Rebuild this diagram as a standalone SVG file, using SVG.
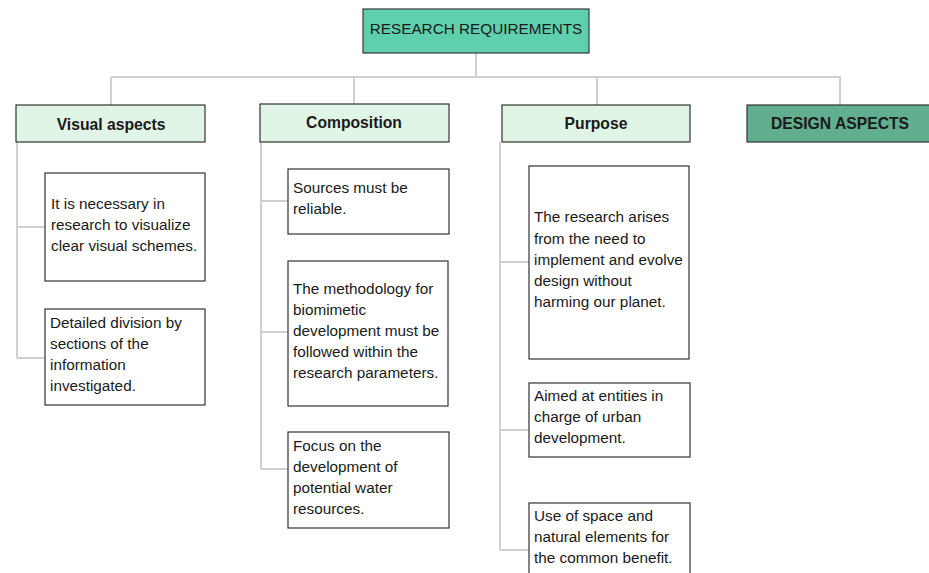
<svg xmlns="http://www.w3.org/2000/svg" width="929" height="573" viewBox="0 0 929 573">
  <style>
    .link { fill: none; stroke: #d0d0d0; stroke-width: 2; }
    .root { fill: #5fcfae; stroke: #3a3a3a; stroke-width: 1.2; }
    .head { fill: #e1f5e7; stroke: #333; stroke-width: 1.2; }
    .design { fill: #62ae91; stroke: #333; stroke-width: 1.2; }
    .leaf { fill: #fff; stroke: #333; stroke-width: 1.2; }
    text { font-family: "Liberation Sans", Arial, sans-serif; font-size: 15.3px; fill: #1a1a1a; }
    .b { font-weight: bold; font-size: 15.7px; }
    .c { text-anchor: middle; }
  </style>
  <rect width="929" height="573" fill="#fff"/>

  <!-- connectors -->
  <g id="connectors">
    <path class="link" d="M476 53V77M111 77H841M111 77V105M354 77V104M597 77V105M840 77V105"/>
    <!-- Visual aspects spine -->
    <path class="link" d="M17 142V358M17 227H45M17 358H45"/>
    <!-- Composition spine -->
    <path class="link" d="M261 142V469M261 201H288M261 332H288M261 469H288"/>
    <!-- Purpose spine -->
    <path class="link" d="M500 142V550M500 262H529M500 430H529M500 550H529"/>
  </g>

  <g id="root">
    <rect class="root" x="363" y="9" width="226" height="44"/>
    <text class="c" x="476" y="34">RESEARCH REQUIREMENTS</text>
  </g>

  <g id="visual-aspects">
    <rect class="head" x="16" y="105" width="189" height="37"/>
    <text class="b c" x="111" y="130">Visual aspects</text>
  </g>
  <g id="visual-1">
    <rect class="leaf" x="45" y="173" width="160" height="108"/>
    <text x="51" y="209">It is necessary in</text>
    <text x="51" y="230">research to visualize</text>
    <text x="51" y="251">clear visual schemes.</text>
  </g>
  <g id="visual-2">
    <rect class="leaf" x="45" y="309" width="160" height="96"/>
    <text x="50" y="328">Detailed division by</text>
    <text x="50" y="349">sections of the</text>
    <text x="50" y="370">information</text>
    <text x="50" y="391">investigated.</text>
  </g>

  <g id="composition">
    <rect class="head" x="260" y="104" width="189" height="38"/>
    <text class="b c" x="354" y="128">Composition</text>
  </g>
  <g id="composition-1">
    <rect class="leaf" x="288" y="169" width="161" height="65"/>
    <text x="293" y="193">Sources must be</text>
    <text x="293" y="214">reliable.</text>
  </g>
  <g id="composition-2">
    <rect class="leaf" x="288" y="261" width="160" height="145"/>
    <text x="293" y="294">The methodology for</text>
    <text x="293" y="315">biomimetic</text>
    <text x="293" y="336">development must be</text>
    <text x="293" y="357">followed within the</text>
    <text x="293" y="378">research parameters.</text>
  </g>
  <g id="composition-3">
    <rect class="leaf" x="288" y="432" width="161" height="96"/>
    <text x="293" y="451">Focus on the</text>
    <text x="293" y="472">development of</text>
    <text x="293" y="493">potential water</text>
    <text x="293" y="514">resources.</text>
  </g>

  <g id="purpose">
    <rect class="head" x="502" y="105" width="188" height="37"/>
    <text class="b c" x="596" y="129">Purpose</text>
  </g>
  <g id="purpose-1">
    <rect class="leaf" x="529" y="166" width="160" height="193"/>
    <text x="534" y="222">The research arises</text>
    <text x="534" y="244">from the need to</text>
    <text x="534" y="265">implement and evolve</text>
    <text x="534" y="286">design without</text>
    <text x="534" y="307">harming our planet.</text>
  </g>
  <g id="purpose-2">
    <rect class="leaf" x="529" y="383" width="161" height="74"/>
    <text x="534" y="401">Aimed at entities in</text>
    <text x="534" y="422">charge of urban</text>
    <text x="534" y="443">development.</text>
  </g>
  <g id="purpose-3">
    <rect class="leaf" x="529" y="503" width="161" height="80"/>
    <text x="534" y="521">Use of space and</text>
    <text x="534" y="542">natural elements for</text>
    <text x="534" y="563">the common benefit.</text>
  </g>

  <g id="design-aspects">
    <rect class="design" x="747" y="105" width="190" height="37"/>
    <text class="b c" x="840" y="129">DESIGN ASPECTS</text>
  </g>
</svg>
